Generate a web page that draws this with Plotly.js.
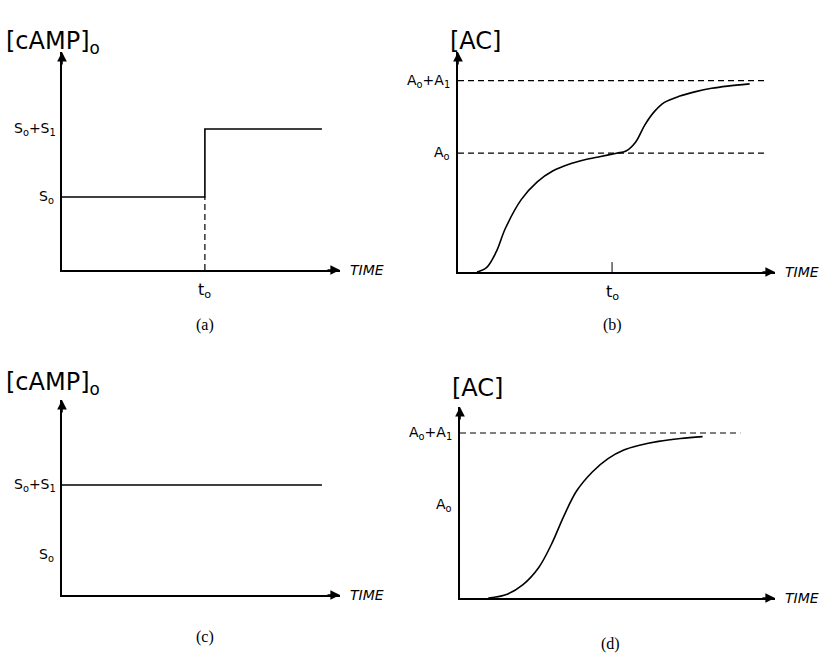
<html><head><script src="https://cdn.plot.ly/plotly-3.0.1.min.js"></script></head><body style="margin:0">
<div id="g" style="width:836px;height:671px"></div>
<script>
// panel (a)
const aStepT = [0, 5.14, 5.14, 9.35];
const aStepV = [3.35, 3.35, 6.47, 6.47];
const aDashT = [5.14, 5.14];
const aDashV = [0, 3.35];
// panel (b)
const bT = [0.6,0.9,1.2,1.5,2,2.5,3,3.5,4,4.5,5,5.3,5.6,5.9,6.2,6.5,7,7.5,8,8.5,9.2];
const bV = [0,0.2,0.9,2.0,3.3,4.1,4.6,4.9,5.1,5.25,5.4,5.5,5.9,6.7,7.3,7.7,8.0,8.2,8.35,8.45,8.55];
const bA0 = 5.4, bA1 = 8.7, bT0 = 4.86, bDashEnd = 9.7;
// panel (c)
const cT = [0, 9.35];
const cV = [5.64, 5.64];
const cS0 = 2.05;
// panel (d)
const dT = [0.9,1.5,2,2.5,2.9,3.3,3.7,4.2,4.7,5.2,5.7,6.3,7,7.7];
const dV = [0,0.2,0.7,1.6,2.8,4.3,5.6,6.6,7.3,7.75,8.0,8.2,8.35,8.45];
const dA0 = 4.87, dA1 = 8.64, dDashEnd = 8.9;

const W=836,H=671;
const px = (a,b)=>[a/W,b/W];
const py = (bot,top)=>[(H-bot)/H,(H-top)/H];
const solid = {color:'black',width:1.6};
const curve = {color:'black',width:1.6,shape:'spline',smoothing:1};
const dash = {color:'black',width:1.2,dash:'6px,4px'};
function tr(x,y,n,line){return {x,y,xaxis:'x'+(n>1?n:''),yaxis:'y'+(n>1?n:''),mode:'lines',line,hoverinfo:'skip'};}
const data = [
 tr(aStepT,aStepV,1,solid), tr(aDashT,aDashV,1,dash),
 tr(bT,bV,2,curve), tr([0,bDashEnd],[bA0,bA0],2,dash), tr([0,bDashEnd],[bA1,bA1],2,dash), tr([bT0,bT0],[0,0.45],2,{color:'black',width:1}),
 tr(cT,cV,3,solid),
 tr(dT,dV,4,curve), tr([0,dDashEnd],[dA1,dA1],4,dash)
];
function ax(dom){return {domain:dom,range:[0,10],showline:true,linecolor:'black',linewidth:1.6,showgrid:false,zeroline:false,showticklabels:false,ticks:'',fixedrange:true};}
const layout = {width:W,height:H,margin:{l:0,r:0,t:0,b:0},showlegend:false,paper_bgcolor:'white',plot_bgcolor:'rgba(0,0,0,0)',
 font:{family:'DejaVu Sans',color:'black'},
 xaxis:ax(px(62,340)), yaxis:ax(py(270,52)),
 xaxis2:ax(px(458,775)), yaxis2:ax(py(272,52)),
 xaxis3:ax(px(62,340)), yaxis3:ax(py(595,400)),
 xaxis4:ax(px(460,775)), yaxis4:ax(py(598,407)),
 annotations:[]
};
['','2','3','4'].forEach((s,i)=>{
 layout['xaxis'+(s?s:'')].anchor='y'+s; layout['yaxis'+(s?s:'')].anchor='x'+s;
});
const A = layout.annotations;
function arrows(s){
 A.push({xref:'x'+s,yref:'y'+s,x:10,y:0,ax:-14,ay:0,showarrow:true,arrowhead:2,arrowsize:1.2,arrowwidth:1.6,arrowcolor:'black',text:''});
 A.push({xref:'x'+s,yref:'y'+s,x:0,y:10,ax:0,ay:14,showarrow:true,arrowhead:2,arrowsize:1.2,arrowwidth:1.6,arrowcolor:'black',text:''});
 A.push({xref:'x'+s,yref:'y'+s,x:10,y:0,xshift:8,text:'<i>TIME</i>',showarrow:false,xanchor:'left',font:{size:14}});
}
['','2','3','4'].forEach(arrows);
function lab(s,x,y,t,opt){A.push(Object.assign({xref:'x'+s,yref:'y'+s,x,y,text:t,showarrow:false,font:{size:14}},opt||{}));}
lab('',0,3.35,'S<sub>o</sub>',{xanchor:'right',xshift:-6});
lab('',0,6.47,'S<sub>o</sub>+S<sub>1</sub>',{xanchor:'right',xshift:-4});
lab('',5.14,0,'t<sub>o</sub>',{yanchor:'top',yshift:-8,font:{size:16}});
lab('2',0,bA0,'A<sub>o</sub>',{xanchor:'right',xshift:-6});
lab('2',0,bA1,'A<sub>o</sub>+A<sub>1</sub>',{xanchor:'right',xshift:-6});
lab('2',bT0,0,'t<sub>o</sub>',{yanchor:'top',yshift:-8,font:{size:16}});
lab('3',0,5.64,'S<sub>o</sub>+S<sub>1</sub>',{xanchor:'right',xshift:-4});
lab('3',0,cS0,'S<sub>o</sub>',{xanchor:'right',xshift:-6});
lab('4',0,dA0,'A<sub>o</sub>',{xanchor:'right',xshift:-6});
lab('4',0,dA1,'A<sub>o</sub>+A<sub>1</sub>',{xanchor:'right',xshift:-6});
function pap(x,y,t,size,fam,anchor){A.push({xref:'paper',yref:'paper',x:x/W,y:(H-y)/H,xanchor:anchor||'center',text:t,showarrow:false,font:{size,family:fam||'DejaVu Sans'}});}
pap(4,25,'[cAMP]<sub>o</sub>',24,null,'left');
pap(448,25,'[AC]',24,null,'left');
pap(4,383,'[cAMP]<sub>o</sub>',24,null,'left');
pap(450,388,'[AC]',24,null,'left');
pap(205,325,'(a)',16,'Liberation Serif');
pap(612,325,'(b)',16,'Liberation Serif');
pap(205,648,'(c)',16,'Liberation Serif');
pap(610,655,'(d)',16,'Liberation Serif');
Plotly.newPlot('g',data,layout,{staticPlot:true});
</script></body></html>
